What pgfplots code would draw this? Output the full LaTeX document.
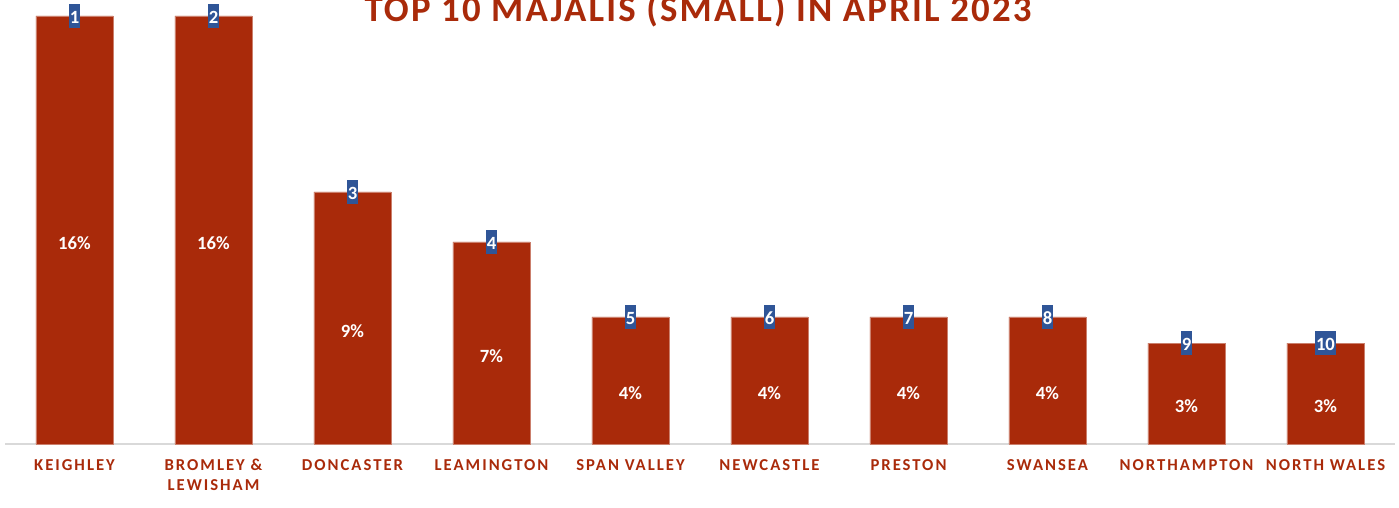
\documentclass[border=0pt]{standalone}
\usepackage{fontspec}
\setmainfont{Carlito}
\newfontfamily\lsfont[LetterSpace=12]{Carlito}
\newfontfamily\titlefont[LetterSpace=6]{Carlito}
\usepackage{pgfplots}
\usepackage{pgfplotstable}
\pgfplotsset{compat=1.18}
\definecolor{barred}{HTML}{A92A0A}
\definecolor{rankblue}{HTML}{2F5597}
\definecolor{axgray}{HTML}{D9D9D9}
\pgfplotstableread{
x y pct rank
0 17.12 16 1
1 17.12 16 2
2 10.08 9 3
3 8.08 7 4
4 5.08 4 5
5 5.08 4 6
6 5.08 4 7
7 5.08 4 8
8 4.04 3 9
9 4.04 3 10
}\datatab
\begin{document}
\begin{tikzpicture}
\path[use as bounding box] (0,0) rectangle (1049.25pt,380.25pt);
\begin{axis}[
  at={(3.75pt,47.25pt)}, anchor=south west,
  scale only axis, width=1042.5pt, height=333pt,
  xmin=-0.5, xmax=9.5, ymin=0, ymax=17.76,
  clip=false,
  axis x line*=bottom, axis y line=none,
  x axis line style={draw=axgray, line width=1.5pt},
  ytick=\empty,
  xtick=data,
  major tick length=0pt,
  xticklabels={KEIGHLEY,{BROMLEY \&\\LEWISHAM},DONCASTER,LEAMINGTON,SPAN VALLEY,NEWCASTLE,PRESTON,SWANSEA,NORTHAMPTON,NORTH WALES},
  xticklabel style={align=center, font=\lsfont\bfseries\fontsize{12.5}{15}\selectfont, text=barred, yshift=-8pt},
  ybar, bar width=57.75pt,
]
\addplot[fill=barred, draw=barred!60!white, line width=0.4pt, bar shift=0pt,
  point meta=explicit symbolic,
  visualization depends on={y \as \rawy},
  nodes near coords={\pgfplotspointmeta\%},
  every node near coord/.style={anchor=center, text=white, font=\bfseries\fontsize{14}{16}\selectfont,
    yshift={-(9.375*\rawy+9.75)*1pt}},
] table[x=x, y=y, meta=pct] {\datatab};
\addplot[draw=none, fill=none, bar shift=0pt,
  point meta=explicit symbolic,
  nodes near coords={\pgfplotspointmeta},
  every node near coord/.style={anchor=center, fill=rankblue, text=white,
    font=\bfseries\fontsize{14}{16}\selectfont, inner xsep=0.8pt, inner ysep=0.8pt,
    text height=14pt, text depth=2.5pt},
] table[x=x, y=y, meta=rank] {\datatab};
\end{axis}
\node[anchor=base, text=barred, font=\titlefont\bfseries\fontsize{27.6}{30}\selectfont] at (523.5pt,363.75pt) {TOP 10 MAJALIS (SMALL) IN APRIL 2023};
\end{tikzpicture}
\end{document}
